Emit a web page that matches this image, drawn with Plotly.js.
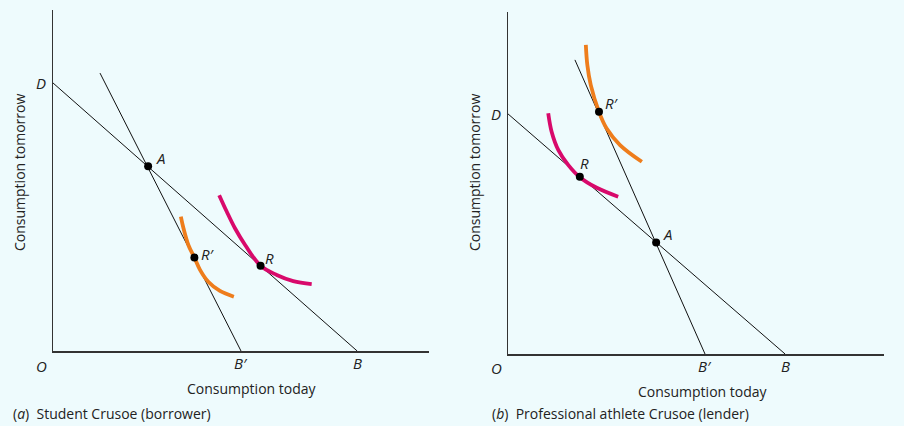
<!DOCTYPE html>
<html>
<head>
<meta charset="utf-8">
<script src="https://cdn.plot.ly/plotly-3.0.1.min.js"></script>
<style>html,body{margin:0;padding:0;background:#eefbfd;}#chart{width:904px;height:426px;}</style>
</head>
<body>
<div id="chart"></div>
<script>
// ---- Panel (a): Student Crusoe (borrower) ----
const aBudgetX = [0, 80.9];          // D -> B
const aBudgetY = [78.6, 0];
const aSteepX = [12.5, 50.0];        // -> B'
const aSteepY = [81.5, 0];
const aOrangeX = [34.0, 34.7, 36.0, 37.6, 39.1, 41.3, 44.4, 48.1];
const aOrangeY = [39.4, 36.0, 31.1, 27.4, 23.8, 20.3, 17.6, 15.9];
const aMagentaX = [44.2, 46.2, 48.4, 51.1, 55.2, 59.5, 63.9, 68.8];
const aMagentaY = [45.7, 40.9, 36.0, 31.1, 25.0, 22.3, 20.5, 19.6];
const aPointNames = ["A", "R\u2032", "R"];
const aPointX = [25.3, 37.6, 55.2];
const aPointY = [54.2, 27.4, 25.0];

// ---- Panel (b): Professional athlete Crusoe (lender) ----
const bBudgetX = [0, 73.7];
const bBudgetY = [70.2, 0];
const bSteepX = [17.8, 52.4];
const bSteepY = [86.0, 0];
const bOrangeX = [20.7, 21.1, 22.0, 24.2, 26.2, 29.8, 35.6];
const bOrangeY = [90.4, 84.5, 78.7, 70.8, 66.0, 61.1, 56.2];
const bMagentaX = [10.7, 11.6, 13.4, 16.0, 19.1, 23.6, 29.3];
const bMagentaY = [70.4, 65.0, 59.6, 55.3, 51.7, 48.6, 46.0];
const bPointNames = ["A", "R\u2032", "R"];
const bPointX = [39.4, 24.2, 19.1];
const bPointY = [32.6, 70.8, 51.8];

const axisTickNames = ["O", "B\u2032", "B"];

const ORANGE = "#ee7d1c";
const MAGENTA = "#d8096b";
const FONT = "Open Sans, Noto Sans, sans-serif";

function lineTrace(x, y, ax) {
  return {x: x, y: y, mode: "lines", line: {color: "#111", width: 1}, xaxis: ax[0], yaxis: ax[1], hoverinfo: "skip"};
}
function curveTrace(x, y, color, ax) {
  return {x: x, y: y, mode: "lines", line: {color: color, width: 3.8, shape: "spline", smoothing: 1}, xaxis: ax[0], yaxis: ax[1], hoverinfo: "skip"};
}
function pointTrace(x, y, names, ax) {
  return {x: x, y: y, text: names, mode: "markers", marker: {color: "#000", size: 8}, xaxis: ax[0], yaxis: ax[1], hoverinfo: "text"};
}

const A1 = ["x", "y"], A2 = ["x2", "y2"];
const data = [
  lineTrace(aBudgetX, aBudgetY, A1),
  lineTrace(aSteepX, aSteepY, A1),
  curveTrace(aOrangeX, aOrangeY, ORANGE, A1),
  curveTrace(aMagentaX, aMagentaY, MAGENTA, A1),
  pointTrace(aPointX, aPointY, aPointNames, A1),
  lineTrace(bBudgetX, bBudgetY, A2),
  lineTrace(bSteepX, bSteepY, A2),
  curveTrace(bOrangeX, bOrangeY, ORANGE, A2),
  curveTrace(bMagentaX, bMagentaY, MAGENTA, A2),
  pointTrace(bPointX, bPointY, bPointNames, A2)
];

const italic = {family: FONT, size: 15, color: "#222"};
function lab(text, xref, yref, x, y, xs, ys) {
  return {text: "<i>" + text + "</i>", xref: xref, yref: yref, x: x, y: y, xshift: xs, yshift: ys,
          showarrow: false, font: italic, xanchor: "center", yanchor: "middle"};
}
const ann = [];
// panel a labels
ann.push(lab("D", "x", "y", 0, aBudgetY[0], -12, 0));
ann.push(lab(axisTickNames[0], "x", "y", 0, 0, -12, -15));
ann.push(lab(axisTickNames[1], "x", "y", aSteepX[1], 0, 0, -12));
ann.push(lab(axisTickNames[2], "x", "y", aBudgetX[1], 0, 0, -12));
ann.push(lab(aPointNames[0], "x", "y", aPointX[0], aPointY[0], 12, 8));
ann.push(lab(aPointNames[1], "x", "y", aPointX[1], aPointY[1], 14, 4));
ann.push(lab(aPointNames[2], "x", "y", aPointX[2], aPointY[2], 9, 8));
// panel b labels
ann.push(lab("D", "x2", "y2", 0, bBudgetY[0], -12, 0));
ann.push(lab(axisTickNames[0], "x2", "y2", 0, 0, -12, -14));
ann.push(lab(axisTickNames[1], "x2", "y2", bSteepX[1], 0, 0, -12));
ann.push(lab(axisTickNames[2], "x2", "y2", bBudgetX[1], 0, 0, -12));
ann.push(lab(bPointNames[0], "x2", "y2", bPointX[0], bPointY[0], 11, 9));
ann.push(lab(bPointNames[1], "x2", "y2", bPointX[1], bPointY[1], 13, 9));
ann.push(lab(bPointNames[2], "x2", "y2", bPointX[2], bPointY[2], 5, 14));

const plain = {family: FONT, size: 14, color: "#222"};
function txt(text, x, y, angle, xa) {
  return {text: text, xref: "paper", yref: "paper", x: x / 904, y: 1 - y / 426, showarrow: false,
          font: plain, textangle: angle || 0, xanchor: xa || "center", yanchor: "middle"};
}
ann.push(txt("Consumption today", 252, 388));
ann.push(txt("Consumption today", 703, 391));
ann.push(txt("Consumption tomorrow", 19, 173, -90));
ann.push(txt("Consumption tomorrow", 474, 173, -90));
ann.push(txt("(<i>a</i>)  Student Crusoe (borrower)", 11, 413, 0, "left"));
ann.push(txt("(<i>b</i>)  Professional athlete Crusoe (lender)", 490, 413, 0, "left"));

function xax(dom) {
  return {domain: dom, range: [0, 100], showgrid: false, zeroline: false, showticklabels: false, ticks: "",
          showline: true, linecolor: "#333", linewidth: 1.5, fixedrange: true};
}
const layout = {
  width: 904, height: 426,
  margin: {l: 0, r: 0, t: 0, b: 0},
  paper_bgcolor: "#eefbfd", plot_bgcolor: "#eefbfd",
  showlegend: false,
  xaxis: xax([53 / 904, 429 / 904]),
  yaxis: Object.assign(xax([(426 - 351) / 426, (426 - 10) / 426]), {anchor: "x"}),
  xaxis2: Object.assign(xax([508 / 904, 884 / 904]), {anchor: "y2"}),
  yaxis2: Object.assign(xax([(426 - 354) / 426, (426 - 12) / 426]), {anchor: "x2"}),
  annotations: ann
};
layout.xaxis.anchor = "y";

Plotly.newPlot("chart", data, layout, {displayModeBar: false, staticPlot: true});
</script>
</body>
</html>
